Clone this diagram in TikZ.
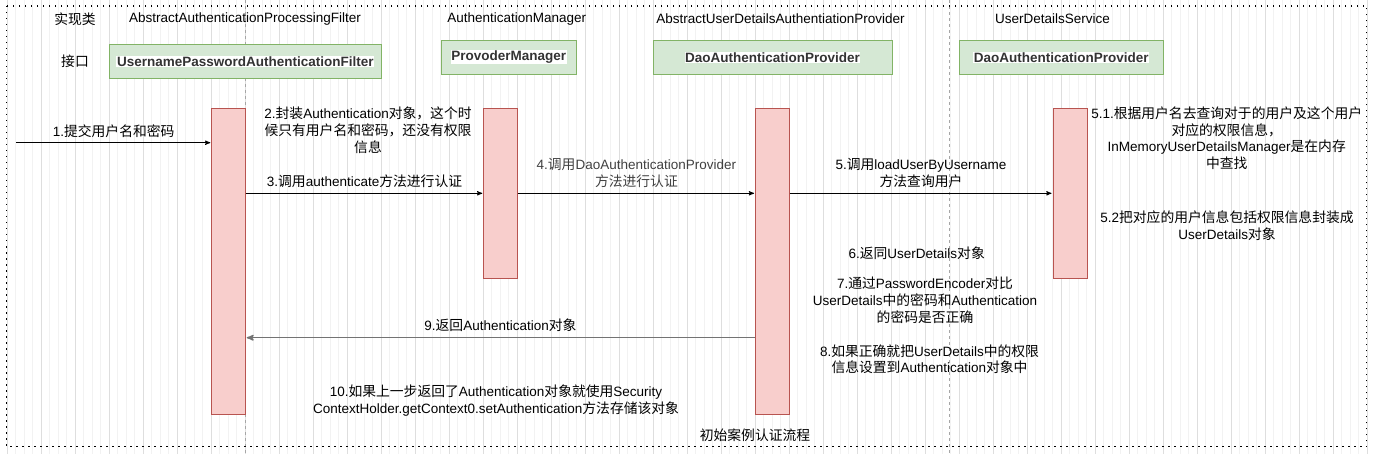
\documentclass[tikz,border=0pt]{standalone}
\usepackage{fontspec}
\setmainfont{Liberation Sans}
\newfontfamily\enfont{Liberation Sans}
\newfontfamily\zhfont[Scale=1.022]{Noto Sans CJK SC}
\usepackage{tikz}
\usetikzlibrary{
        arrows,
        positioning
    }
% switch to the CJK font for Chinese characters
\XeTeXinterchartokenstate=1
\newXeTeXintercharclass\zhclass
\newcount\zhcode
\zhcode="4E00
\loop
  \XeTeXcharclass\zhcode=\zhclass
  \ifnum\zhcode<"9FFF \advance\zhcode by 1
\repeat
\XeTeXcharclass"FF0C=\zhclass
\XeTeXinterchartoks 0 \zhclass={\zhfont}
\XeTeXinterchartoks 4095 \zhclass={\zhfont}
\XeTeXinterchartoks \zhclass 0={\enfont}
\XeTeXinterchartoks \zhclass 4095={\enfont}

\definecolor{barfill}{HTML}{F8CECC}
\definecolor{barline}{HTML}{B85450}
\definecolor{boxfill}{HTML}{D5E8D4}
\definecolor{boxline}{HTML}{82B366}
\definecolor{boxtext}{HTML}{333333}
\newcommand{\hl}[1]{{\setlength{\fboxsep}{0.6pt}\colorbox{white}{#1}}}
\tikzset{>=stealth',shorten >=1pt,auto}
\tikzset{
  bar/.style={draw=barline,fill=barfill,anchor=north,minimum width=34pt,inner sep=0pt},
  cls/.style={draw=boxline,fill=boxfill,minimum height=33.7pt,inner sep=0pt,font=\fontsize{13.5}{16.5}\selectfont\bfseries,text=boxtext},
  txt/.style={align=center,inner sep=1pt},
  msg/.style={->,draw=black,line width=0.9pt},
  ret/.style={->,draw=black!55,line width=1.4pt},
  lbl/.style={align=center,inner sep=5pt}
}

\begin{document}
\begin{tikzpicture}[x=1pt,y=-1pt,font=\fontsize{13.5}{16.8}\selectfont]
    \useasboundingbox (0,0) rectangle (1375,454);
    % background grid
    \draw[black!5,step=8.5,shift={(6.7,6.7)}] (-6.7,-6.7) grid (1368.3,447.3);
    \draw[black!13,step=34,shift={(6.7,6.7)}] (-6.7,-6.7) grid (1368.3,447.3);
    \draw[black!35,dash pattern=on 3pt off 3pt] (245.5,0) -- (245.5,454);
    \draw[black!35,dash pattern=on 3pt off 3pt] (949,0) -- (949,454);
    \draw[line width=1.5pt,dash pattern=on 1.5pt off 4.5pt] (6.7,6) rectangle (1366.7,446.7);

    % classes
    \node (implLbl)     at (75,19)    {实现类};
    \node (ifaceLbl)    at (75,61)    {接口};
    \node (filterCls)   at (245,19)   {AbstractAuthenticationProcessingFilter};
    \node (managerCls)  at (516.7,19) {AuthenticationManager};
    \node (providerCls) at (780.5,19) {AbstractUserDetailsAuthentiationProvider};
    \node (serviceCls)  at (1052.5,19) {UserDetailsService};
    \node[cls,minimum width=272.7pt,minimum height=34.7pt] (filter) at (245.3,61.3) {\hl{UsernamePasswordAuthenticationFilter}};
    \node[cls,minimum width=135.7pt] (manager)  at (508.8,57.2)  {\hl{ProvoderManager}};
    \node[cls,minimum width=238.4pt] (provider) at (772.5,57.2)  {\hl{DaoAuthenticationProvider}};
    \node[cls,minimum width=204.7pt] (service)  at (1061.3,57.2) {\hl{DaoAuthenticationProvider}};

    % activations
    \node[bar,minimum height=306pt] (filterBar)   at (228.5,108.3)  {};
    \node[bar,minimum height=170pt] (managerBar)  at (500.5,108.3)  {};
    \node[bar,minimum height=306pt] (providerBar) at (772.3,108.3)  {};
    \node[bar,minimum height=170pt] (serviceBar)  at (1069.7,108.3) {};

    \coordinate (user) at (16,142.7);
    \coordinate (callRow) at (0,193.3);
    \coordinate (backRow) at (0,337.7);
    \path
        (user) edge[msg] node[lbl] {1.提交用户名和密码} (filterBar.west |- user)
        (filterBar.east |- callRow) edge[msg] node[lbl] {3.调用authenticate方法进行认证} (managerBar.west |- callRow)
        (managerBar.east |- callRow) edge[msg] node[lbl,text=black!75] {4.调用DaoAuthenticationProvider\\方法进行认证} (providerBar.west |- callRow)
        (providerBar.east |- callRow) edge[msg] node[lbl] {5.调用loadUserByUsername\\方法查询用户} (serviceBar.west |- callRow)
        (providerBar.west |- backRow) edge[ret] node[lbl,swap] {9.返回Authentication对象} (filterBar.east |- backRow)
    ;

    % notes
    \node[txt] (step2)  at (368,130)     {2.封装Authentication对象，这个时\\候只有用户名和密码，还没有权限\\信息};
    \node[txt] (step51) at (1226.7,138.3) {5.1.根据用户名去查询对于的用户及这个用户\\对应的权限信息，\\InMemoryUserDetailsManager是在内存\\中查找};
    \node[txt] (step52) at (1227,226)    {5.2把对应的用户信息包括权限信息封装成\\UserDetails对象};
    \node[txt] (step6)  at (916.7,253.3) {6.返同UserDetails对象};
    \node[txt] (step7)  at (925,300)     {7.通过PasswordEncoder对比\\UserDetails中的密码和Authentication\\的密码是否正确};
    \node[txt] (step8)  at (929.5,359.2) {8.如果正确就把UserDetails中的权限\\信息设置到Authentication对象中};
    \node[txt] (step10) at (496,400.5)   {10.如果上一步返回了Authentication对象就使用Security\\ContextHolder.getContext0.setAuthentication方法存储该对象};
    \node (caption) at (755,435.7) {初始案例认证流程};
\end{tikzpicture}
\end{document}
